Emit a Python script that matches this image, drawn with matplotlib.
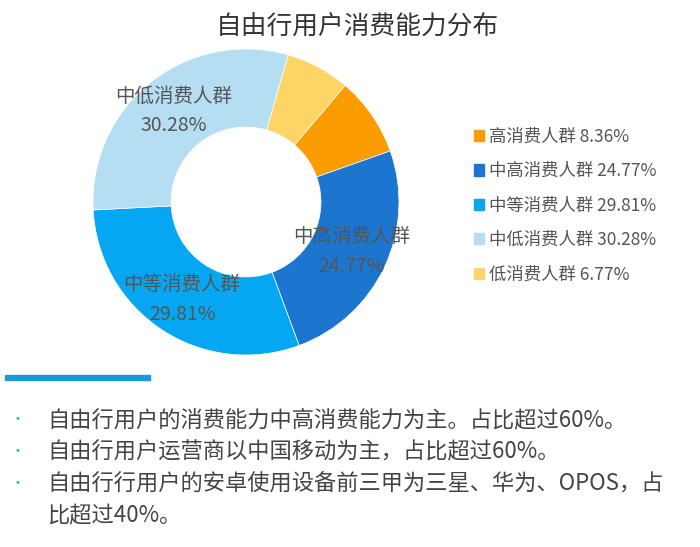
import matplotlib
matplotlib.use("Agg")
import matplotlib.pyplot as plt
import matplotlib.patches as mpatches

plt.rcParams['font.family'] = ['Noto Sans CJK SC', 'DejaVu Sans']

# data
groups = ["高消费人群", "中高消费人群", "中等消费人群", "中低消费人群", "低消费人群"]
shares = [8.36, 24.77, 29.81, 30.28, 6.77]
colors = ["#FA9B00", "#1C76CF", "#06A7F2", "#B5DEF3", "#FDD466"]
show_label = [False, True, True, True, False]

title = "自由行用户消费能力分布"
notes = [
    "自由行用户的消费能力中高消费能力为主。占比超过60%。",
    "自由行用户运营商以中国移动为主，占比超过60%。",
    "自由行行用户的安卓使用设备前三甲为三星、华为、OPOS，占",
]
note_cont = "比超过40%。"

W, H = 700, 547
fig = plt.figure(figsize=(W / 100, H / 100), dpi=100)
fig.patch.set_facecolor("white")

# pie axes: centre (246,202) px, radius 153 px
cx, cy, r = 246, 202, 153
ax = fig.add_axes([(cx - r) / W, 1 - (cy + r) / H, 2 * r / W, 2 * r / H])

labels = []
for g, s, sh in zip(groups, shares, show_label):
    labels.append(f"{g}\n{s:.2f}%" if sh else "")

wedges, texts = ax.pie(shares, colors=colors, startangle=49.6, counterclock=False,
                       labels=labels, labeldistance=0.76,
                       wedgeprops=dict(width=0.51, edgecolor="white", linewidth=0.5),
                       textprops=dict(fontsize=14, color="#555555", linespacing=1.55))
for t in texts:
    t.set_ha("center")
    t.set_va("center")
ax.set_xlim(-1, 1)
ax.set_ylim(-1, 1)
ax.set_aspect("equal")
ax.axis("off")

fig.text(357 / W, 1 - 27 / H, title, ha="center", va="center", fontsize=18.5, color="#333333")

leg_labels = [f"{g} {s:.2f}%" for g, s in zip(groups, shares)]
handles = [mpatches.Patch(color=c) for c in colors]
fig.legend(handles, leg_labels, loc="upper left", bbox_to_anchor=(458 / W, 1 - 112 / H),
           frameon=False, fontsize=12.5, labelcolor="#555555", handlelength=0.6,
           handleheight=0.6, handletextpad=0.3, labelspacing=0.95)

# bottom bar
fig.patches.append(mpatches.Rectangle((5 / W, 1 - 380 / H), 145 / W, 5 / H,
                                      transform=fig.transFigure, color="#1B9AD5"))

ys = [420, 452, 484]
for y, n in zip(ys, notes):
    fig.text(17 / W, 1 - y / H, "•", ha="center", va="center", fontsize=10, color="#2AA3DA")
    fig.text(47 / W, 1 - y / H, n, ha="left", va="center", fontsize=16, color="#444444")
fig.text(47 / W, 1 - 516 / H, note_cont, ha="left", va="center", fontsize=16, color="#444444")

fig.savefig("out.png", dpi=100, facecolor="white")
